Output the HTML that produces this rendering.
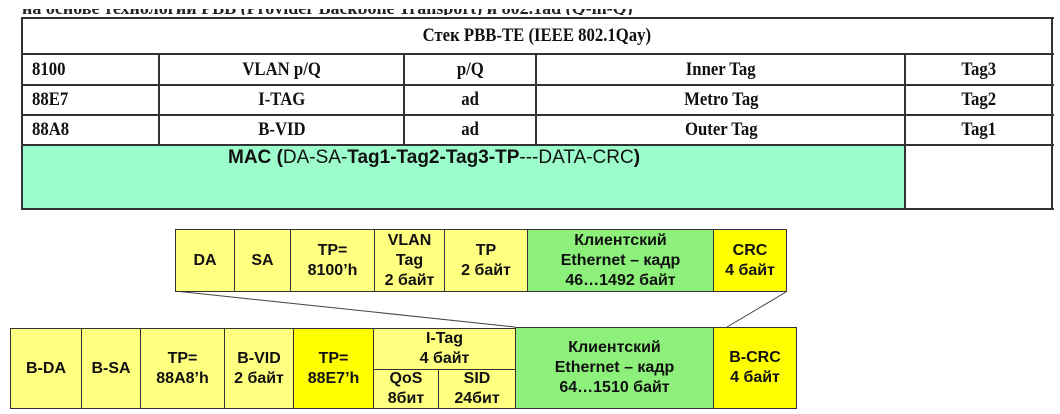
<!DOCTYPE html>
<html><head><meta charset="utf-8"><style>
body{margin:0;width:1060px;height:414px;background:#fff;position:relative;overflow:hidden;font-family:"Liberation Sans",sans-serif}
.a{position:absolute;box-sizing:border-box}
.t{font-family:"Liberation Serif",serif;font-weight:bold;font-size:19px;color:#111;display:flex;align-items:center}
.t span{display:inline-block;transform:scaleX(0.88)}
.b{border:1px solid #333;display:flex;align-items:center;justify-content:center;text-align:center;font-weight:bold;font-size:16px;line-height:20px;color:#111}
.y{background:#ffff80}.Y{background:#ffff00}.g{background:#8cf07a}
.hl{position:absolute;background:#333;height:2px}
.vl{position:absolute;background:#333;width:2px}
</style></head><body>
<div class="a" style="left:22px;top:9px;width:830px;height:6px;overflow:hidden;font-family:'Liberation Serif',serif;font-weight:bold;font-size:18px;white-space:nowrap;color:#222"><div style="position:absolute;left:0;top:-11px;line-height:20px">на основе технологий PBB (Provider Backbone Transport) и 802.1ad (Q-in-Q)</div></div>
<div class="a" style="left:22px;top:145px;width:883px;height:64px;background:#9cfccc"></div>
<div class="hl" style="left:22px;top:17px;width:1032px"></div>
<div class="hl" style="left:22px;top:53px;width:1032px"></div>
<div class="hl" style="left:22px;top:84px;width:1032px"></div>
<div class="hl" style="left:22px;top:114px;width:1032px"></div>
<div class="hl" style="left:22px;top:144px;width:1032px"></div>
<div class="hl" style="left:22px;top:208px;width:1032px"></div>
<div class="vl" style="left:21px;top:17px;height:193px"></div>
<div class="vl" style="left:1051px;top:17px;height:193px"></div>
<div class="vl" style="left:158px;top:53px;height:93px"></div>
<div class="vl" style="left:403px;top:53px;height:92px"></div>
<div class="vl" style="left:535px;top:53px;height:92px"></div>
<div class="vl" style="left:904px;top:53px;height:157px"></div>
<div class="a t" style="left:22px;top:18px;width:1030px;height:35px;justify-content:center"><span>Стек PBB-TE (IEEE 802.1Qay)</span></div>
<div class="a t" style="left:32px;top:54px;height:31px"><span style="transform-origin:left">8100</span></div>
<div class="a t" style="left:32px;top:85px;height:30px"><span style="transform-origin:left">88E7</span></div>
<div class="a t" style="left:32px;top:115px;height:30px"><span style="transform-origin:left">88A8</span></div>
<div class="a t" style="left:160px;top:54px;width:244px;height:31px;justify-content:center"><span>VLAN p/Q</span></div>
<div class="a t" style="left:160px;top:85px;width:244px;height:30px;justify-content:center"><span>I-TAG</span></div>
<div class="a t" style="left:160px;top:115px;width:244px;height:30px;justify-content:center"><span>B-VID</span></div>
<div class="a t" style="left:405px;top:54px;width:131px;height:31px;justify-content:center"><span>p/Q</span></div>
<div class="a t" style="left:405px;top:85px;width:131px;height:30px;justify-content:center"><span>ad</span></div>
<div class="a t" style="left:405px;top:115px;width:131px;height:30px;justify-content:center"><span>ad</span></div>
<div class="a t" style="left:537px;top:54px;width:368px;height:31px;justify-content:center"><span>Inner Tag</span></div>
<div class="a t" style="left:537px;top:85px;width:368px;height:30px;justify-content:center"><span>Metro Tag</span></div>
<div class="a t" style="left:537px;top:115px;width:368px;height:30px;justify-content:center"><span>Outer Tag</span></div>
<div class="a t" style="left:906px;top:54px;width:146px;height:31px;justify-content:center"><span>Tag3</span></div>
<div class="a t" style="left:906px;top:85px;width:146px;height:30px;justify-content:center"><span>Tag2</span></div>
<div class="a t" style="left:906px;top:115px;width:146px;height:30px;justify-content:center"><span>Tag1</span></div>
<div class="a" style="left:228px;top:147px;font-size:19px;white-space:nowrap;color:#111"><b>MAC</b> <b>(</b>DA-SA-<b>Tag1-Tag2-Tag3-TP</b>---DATA-CRC<b>)</b></div>

<svg class="a" style="left:0;top:0" width="1060" height="414"><line x1="175" y1="291" x2="515" y2="327" stroke="#444" stroke-width="1"/><line x1="786" y1="292" x2="727" y2="327" stroke="#444" stroke-width="1"/></svg>

<div class="a b y" style="left:175px;top:229px;width:60px;height:63px">DA</div>
<div class="a b y" style="left:234px;top:229px;width:57px;height:63px">SA</div>
<div class="a b y" style="left:290px;top:229px;width:85px;height:63px">TP=<br>8100’h</div>
<div class="a b y" style="left:374px;top:229px;width:71px;height:63px">VLAN<br>Tag<br>2 байт</div>
<div class="a b y" style="left:444px;top:229px;width:84px;height:63px">TP<br>2 байт</div>
<div class="a b g" style="left:527px;top:229px;width:187px;height:63px">Клиентский<br>Ethernet – кадр<br>46…1492 байт</div>
<div class="a b Y" style="left:713px;top:229px;width:74px;height:63px">CRC<br>4 байт</div>

<div class="a b y" style="left:10px;top:328px;width:72px;height:81px">B-DA</div>
<div class="a b y" style="left:81px;top:328px;width:60px;height:81px">B-SA</div>
<div class="a b y" style="left:140px;top:328px;width:85px;height:81px">TP=<br>88A8’h</div>
<div class="a b y" style="left:224px;top:328px;width:70px;height:81px">B-VID<br>2 байт</div>
<div class="a b Y" style="left:293px;top:328px;width:81px;height:81px">TP=<br>88E7’h</div>
<div class="a b y" style="left:373px;top:328px;width:143px;height:42px">I-Tag<br>4 байт</div>
<div class="a b y" style="left:373px;top:369px;width:66px;height:40px">QoS<br>8бит</div>
<div class="a b y" style="left:438px;top:369px;width:78px;height:40px">SID<br>24бит</div>
<div class="a b g" style="left:515px;top:327px;width:199px;height:82px">Клиентский<br>Ethernet – кадр<br>64…1510 байт</div>
<div class="a b Y" style="left:713px;top:327px;width:84px;height:82px">B-CRC<br>4 байт</div>
</body></html>
